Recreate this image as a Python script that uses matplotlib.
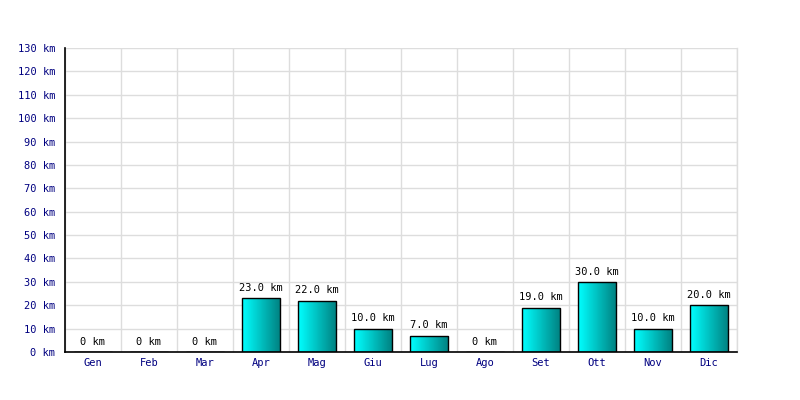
import matplotlib.pyplot as plt
import numpy as np

mesi = ["Gen", "Feb", "Mar", "Apr", "Mag", "Giu", "Lug", "Ago", "Set", "Ott", "Nov", "Dic"]
km = [0, 0, 0, 23, 22, 10, 7, 0, 19, 30, 10, 20]
yticks = list(range(0, 131, 10))

fig = plt.figure(figsize=(8, 4), dpi=100)
ax = fig.add_axes([65 / 800, 48 / 400, 672 / 800, 304 / 400])

x = np.arange(len(mesi))
barre = ax.bar(x, km, width=0.68, facecolor="none", edgecolor="black", linewidth=1, zorder=3)

# gradiente orizzontale ciano -> verde acqua scuro dentro ogni barra
grad = np.linspace(0, 1, 64).reshape(1, -1)
cmap = plt.matplotlib.colors.LinearSegmentedColormap.from_list("ciano", ["#00ffff", "#008080"])
for b in barre:
    if b.get_height() <= 0:
        continue
    img = ax.imshow(grad, cmap=cmap, aspect="auto", zorder=2,
                    extent=[b.get_x(), b.get_x() + b.get_width(), 0, b.get_height()])
    img.set_clip_path(b)

for xi, v in zip(x, km):
    testo = f"{v:.1f} km" if v > 0 else "0 km"
    ax.text(xi, v + 2.2, testo, ha="center", va="bottom", fontsize=7.5,
            family="DejaVu Sans Mono", color="black")

ax.set_xlim(-0.5, len(mesi) - 0.5)
ax.set_ylim(0, 130)
ax.set_yticks(yticks)
ax.set_yticklabels([f"{t} km" for t in yticks], family="DejaVu Sans Mono", fontsize=7.5, color="#000080")
ax.set_xticks(x)
ax.set_xticklabels(mesi, family="DejaVu Sans Mono", fontsize=7.5, color="#000080")
ax.set_xticks(np.arange(-0.5, len(mesi), 1), minor=True)
ax.tick_params(axis="both", which="both", length=0)
ax.tick_params(axis="y", pad=7)
ax.tick_params(axis="x", pad=4)

ax.grid(True, axis="y", color="#dddddd", linewidth=1, zorder=0)
ax.grid(True, axis="x", which="minor", color="#dddddd", linewidth=1, zorder=0)
ax.axvline(len(mesi) - 0.5, color="#dddddd", linewidth=1, zorder=0, clip_on=False)
ax.set_axisbelow(True)
for s in ["top", "right"]:
    ax.spines[s].set_visible(False)
ax.spines["left"].set_linewidth(1.2)
ax.spines["bottom"].set_linewidth(1.2)

fig.savefig("out.png", dpi=100)
